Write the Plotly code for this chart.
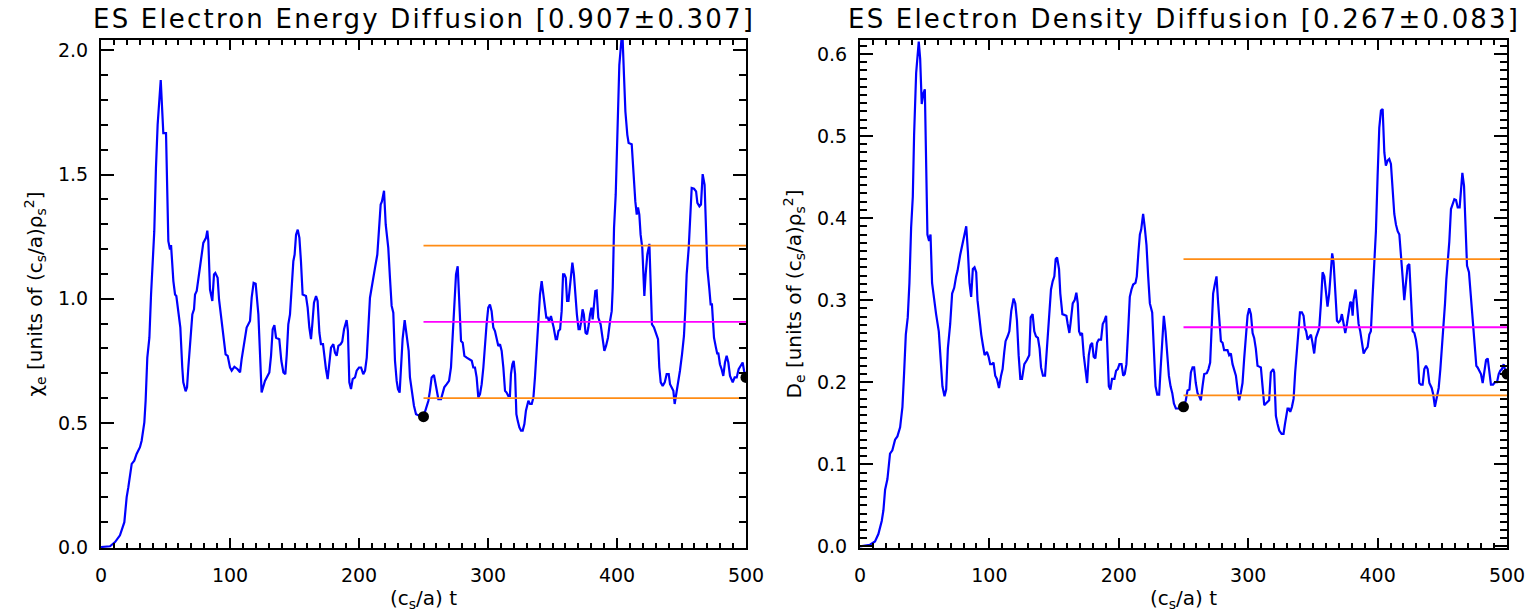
import plotly.graph_objects as go

# ---------------- data ----------------
t_chi = [0, 7.0, 10.9, 14.7, 18.1, 19.9, 21.2, 23.8, 25.8, 27.6, 30.2, 31.5, 33.6, 34.6, 35.9, 37.5, 38.8, 40.1,
         41.3, 42.6, 43.9, 46.3, 47.8, 48.3, 50.4, 51.4, 52.2, 53.5, 54.3, 56.1, 57.4, 58.4, 59.9, 61.5, 63.0, 63.8,
         65.6, 66.7, 67.7, 69.0, 70.8, 72.1, 72.9, 74.2, 75.5, 77.0, 79.3, 81.4, 82.4, 83.2, 84.5, 86.3, 87.6, 88.6,
         90.4, 91.5, 93.0, 95.1, 96.6, 98.2, 100.0, 101.3, 103.4, 105.9, 107.8, 109.0, 110.9, 112.9, 115.5, 116.8,
         118.3, 119.9, 122.0, 123.3, 124.5,
         127.1, 128.9, 130.5, 131.8, 133.1, 134.4, 135.7, 138.2, 139.8, 141.4, 142.9, 144.0, 145.2, 146.5, 147.8,
         149.1, 150.1, 151.2, 152.5, 153.8, 155.0, 156.3, 158.9, 160.2, 161.5, 162.8, 163.8, 165.1, 166.7, 167.9,
         169.3, 170.5, 172.1, 173.1, 174.4, 175.7, 177.0, 178.3, 180.1, 181.4, 182.7, 184.0, 185.8, 187.0, 188.4,
         190.4, 191.4, 192.5, 193.8, 195.1, 196.9, 198.2, 200.0, 201.6, 203.3, 204.7, 206.0, 207.2, 208.5, 209.8,
         211.1, 212.4, 214.2, 215.5, 216.8, 217.8, 219.4, 220.7, 222.7, 224.0, 225.3, 226.6, 227.9, 229.2, 230.2,
         231.5, 232.8, 233.8, 235.4, 236.9, 238.5, 239.5, 241.1, 242.6, 244.2, 246.8, 250.0,
         252.4, 253.8, 255.0, 256.3, 258.1, 259.7, 261.5, 263.6, 266.1, 268.0, 269.8, 271.3, 272.6, 274.0, 275.2,
         276.5, 277.8, 279.1, 280.4, 281.7, 283.5, 285.5, 287.4, 288.6, 289.9, 291.2, 292.5, 293.8, 295.1, 296.4,
         297.7, 298.9, 300.2, 301.5, 302.8, 304.1, 305.4, 306.7, 308.0, 309.3, 310.6, 311.9, 313.2, 314.4, 315.7,
         317.0, 317.8, 318.9, 319.9, 321.0, 322.0, 323.0, 324.3, 325.6, 326.9, 328.2, 329.4, 331.3, 332.6, 333.9,
         335.2, 336.4, 337.7, 339.0, 340.3, 341.6, 342.9, 344.2, 345.2, 346.3, 347.3, 348.8, 349.9, 350.9, 352.5,
         353.5, 354.6, 355.9, 357.1, 358.2, 359.2, 360.3, 361.3, 362.4, 363.4, 364.4, 365.4, 366.6, 367.6, 368.9,
         370.2, 371.2, 372.3, 373.3, 374.3, 375.6, 376.8, 377.8, 379.1, 380.2,
         381.1, 382.2, 383.2, 384.2, 385.5, 387.3, 388.9, 390.2, 391.5, 393.0, 394.6, 395.9, 396.7, 397.7, 399.0,
         400.3, 401.8, 403.4, 404.4, 405.4, 406.5, 408.0, 409.0, 411.4, 412.7, 414.2, 415.3, 416.3, 417.3, 418.3,
         419.6, 420.4, 421.2, 422.2, 423.5, 425.1, 426.1, 427.1, 428.7, 430.2, 431.8, 432.8, 433.9, 435.4, 437.0,
         438.5, 440.1, 441.1, 442.4, 443.7, 444.7, 445.7, 447.3, 448.8, 450.4, 451.9, 452.9, 454.0, 455.6, 456.6,
         457.9, 459.7, 461.3, 462.3, 463.9, 465.1, 466.4, 467.9, 468.9, 470.0, 471.5, 472.6, 473.6, 475.2, 476.7,
         477.8, 478.5, 479.8, 481.1, 482.4, 483.7, 485.0, 486.3, 487.6, 489.7, 491.2, 492.8, 494.3, 495.9, 497.4,
         498.5, 500.0]
chi_e = [0.0, 0.003, 0.020, 0.047, 0.100, 0.201, 0.241, 0.335, 0.348, 0.375, 0.402, 0.428, 0.502, 0.589, 0.763,
         0.843, 1.017, 1.151, 1.272, 1.526, 1.700, 1.881, 1.740, 1.667, 1.667, 1.446, 1.232, 1.198, 1.216, 1.071,
         1.017, 1.011, 0.937, 0.884, 0.723, 0.663, 0.627, 0.643, 0.723, 0.830, 0.937, 0.957, 1.017, 1.031, 1.078,
         1.138, 1.225, 1.245, 1.274, 1.232, 1.037, 0.991, 1.098, 1.104, 1.084, 0.997, 0.930, 0.857, 0.776, 0.770,
         0.723, 0.710, 0.726, 0.716, 0.703, 0.756, 0.817, 0.884, 0.910, 1.004, 1.064, 1.060, 0.937, 0.776, 0.622,
         0.669, 0.689, 0.703, 0.770, 0.877, 0.894, 0.843, 0.837, 0.750, 0.703, 0.696, 0.776, 0.897, 0.937, 1.071,
         1.151, 1.178, 1.258, 1.278, 1.245, 1.151, 1.017, 1.011, 0.964, 0.884, 0.837, 0.897, 0.984, 1.011, 0.991,
         0.863, 0.817, 0.817, 0.763, 0.716, 0.676, 0.750, 0.803, 0.817, 0.783, 0.770, 0.810, 0.817, 0.827, 0.877,
         0.914, 0.870, 0.663, 0.636, 0.676, 0.683, 0.710, 0.723, 0.723, 0.696, 0.710, 0.763, 0.884, 1.004, 1.044,
         1.078, 1.124, 1.178, 1.285, 1.379, 1.392, 1.435, 1.299, 1.205, 1.084, 0.971, 0.944, 0.750, 0.669, 0.636,
         0.622, 0.723, 0.837, 0.914, 0.857, 0.790, 0.683, 0.622, 0.569, 0.535, 0.529, 0.525,
         0.562, 0.589, 0.629, 0.683, 0.693, 0.643, 0.596, 0.596, 0.643, 0.656, 0.669, 0.723, 0.857, 1.031, 1.098,
         1.131, 0.991, 0.830, 0.823, 0.770, 0.763, 0.756, 0.750, 0.723, 0.723, 0.683, 0.602, 0.616, 0.656, 0.723,
         0.830, 0.897, 0.964, 0.977, 0.950, 0.884, 0.870, 0.843, 0.810, 0.817, 0.790, 0.723, 0.629, 0.622, 0.609,
         0.609, 0.696, 0.736, 0.750, 0.696, 0.535, 0.509, 0.482, 0.469, 0.469, 0.495, 0.549, 0.589, 0.576, 0.576,
         0.602, 0.683, 0.803, 0.897, 1.017, 1.071, 1.017, 0.964, 0.924, 0.924, 0.910, 0.930, 0.910, 0.884, 0.837,
         0.837, 0.870, 0.877, 0.950, 1.098, 1.098, 1.084, 0.991, 0.991, 1.044, 1.098, 1.145, 1.098, 1.017, 0.937,
         0.877, 0.877, 0.910, 0.957, 0.937, 0.863, 0.857, 0.884, 0.937, 0.964,
         0.917, 0.964, 1.031, 1.033, 0.924, 0.897, 0.843, 0.790, 0.810, 0.843, 0.910, 0.950, 1.044, 1.285, 1.419,
         1.700, 1.941, 2.041, 2.041, 1.901, 1.754, 1.660, 1.627, 1.622, 1.499, 1.392, 1.339, 1.368, 1.339, 1.258,
         1.205, 1.071, 1.011, 1.098, 1.178, 1.221, 1.084, 0.897, 0.884, 0.857, 0.837, 0.723, 0.663, 0.649, 0.663,
         0.696, 0.696, 0.656, 0.645, 0.629, 0.576, 0.609, 0.643, 0.710, 0.776, 0.850, 0.950, 1.098, 1.205, 1.339,
         1.446, 1.443, 1.432, 1.386, 1.372, 1.379, 1.502, 1.459, 1.312, 1.124, 1.044, 0.977, 0.977, 0.843, 0.803,
         0.776, 0.783, 0.736, 0.716, 0.689, 0.743, 0.770, 0.743, 0.689, 0.663, 0.683, 0.683, 0.716, 0.730, 0.743,
         0.710, 0.683]

t_de = [0, 7.7, 11.6, 14.2, 16.8, 18.1, 19.4, 21.2, 23.2, 25.0, 27.1, 28.9, 31.0, 32.8, 34.1, 35.4, 36.9, 38.2,
        39.5, 40.8, 41.8, 43.4, 45.4, 46.5, 47.7, 49.0, 50.1, 51.1, 52.1, 53.4, 54.5, 55.7, 57.3, 58.8, 60.9, 62.5,
        63.7, 65.3, 66.6, 67.9, 69.7, 71.2, 72.8, 74.3, 75.4, 77.4, 79.0, 80.0, 82.1, 83.4, 84.6, 85.9, 87.2, 88.5,
        89.8, 90.8, 92.4, 93.7, 95.0, 96.3, 98.1, 99.4, 100.6, 101.9, 103.2, 104.5, 105.8, 107.4, 109.0, 110.2,
        111.5, 112.5, 114.1, 115.4, 116.9, 118.7, 120.0, 121.3, 122.6, 123.9, 125.2, 127.0, 129.0, 130.8, 131.9,
        133.4, 134.7, 136.0, 137.5, 138.8, 139.9, 141.4, 143.0, 144.0, 145.0, 146.3, 147.6, 148.9, 150.2, 151.2,
        152.3, 153.8, 154.8, 156.4, 159.5, 160.5, 161.8, 162.8, 164.4, 165.9, 167.2, 168.3, 169.3, 170.3, 171.6,
        172.9, 174.2, 175.5, 176.8, 178.1, 179.4, 180.6, 181.9, 183.2, 184.5, 186.3, 187.6, 188.9, 190.2, 191.0,
        192.3, 193.5, 194.8, 196.6, 197.9, 199.2, 200.5, 202.1, 203.4, 204.6, 205.9, 207.2, 208.5, 209.8, 211.1,
        212.9, 213.9, 215.2, 216.3, 217.3, 218.8, 220.1, 221.4, 222.7, 224.0, 225.8, 227.1, 228.4, 229.7, 231.2,
        232.3, 233.5, 234.8, 236.1, 237.4, 238.7, 240.0, 241.3, 242.6, 244.1, 246.5, 250.0,
        251.8, 253.1, 254.6, 255.7, 257.0, 258.2, 259.5, 260.8, 262.1, 263.4, 264.7, 266.0, 268.0, 269.3, 270.6,
        271.6, 272.9, 274.2, 275.5, 276.8, 278.1, 278.9, 280.2, 281.4, 282.7, 284.0, 285.3, 286.6, 287.9, 289.2,
        290.5, 291.8, 293.0, 294.3, 295.6, 296.9, 298.2, 299.5, 300.8, 302.1, 303.4, 304.6, 305.9, 307.2, 308.5,
        309.8, 311.1, 312.4, 313.7, 314.9, 316.2, 317.5, 319.3, 320.1, 321.4, 322.7, 324.0, 325.8, 327.3, 328.4,
        329.4, 330.4, 331.4, 332.5, 333.8, 335.1, 336.3, 337.6, 338.9, 340.0, 341.5, 342.8, 343.8, 344.8, 345.9,
        347.2, 348.5, 349.7, 351.0, 352.3, 353.6, 354.9, 356.2, 357.5, 358.8, 360.1, 361.3, 362.6, 363.9, 364.9,
        366.0, 367.3, 368.6, 369.8, 371.1, 372.4, 373.7, 375.0, 376.3, 377.6, 378.9, 379.9, 380.7, 381.4, 383.0,
        384.0, 385.3, 386.6, 387.9, 389.2, 390.5, 392.3, 393.6, 394.8, 396.1, 397.4, 398.7, 400.0, 401.3, 402.6,
        403.9, 405.2, 406.4, 407.7, 409.0, 410.3, 411.6, 412.9, 414.2, 415.5, 416.8, 418.0, 419.3, 420.6, 421.9,
        423.2, 424.5, 425.8, 427.1, 428.4, 429.6, 430.9, 432.2, 433.5, 434.8, 436.1, 437.4, 438.7, 440.0, 441.8,
        443.0, 444.3, 445.9, 447.2, 448.5, 449.7, 451.0, 452.1, 453.1, 454.1, 455.4, 456.7, 458.0, 459.3, 460.6,
        461.9, 463.4, 464.4, 465.5, 466.8, 467.8, 469.1, 470.6, 471.9, 473.0, 474.0, 475.3, 476.3, 477.3, 478.6,
        479.9, 481.2, 482.5, 483.8, 485.1, 486.3, 487.6, 489.2, 490.7, 492.3, 493.6, 494.8, 496.1, 497.4, 498.7,
        500.0]
d_e = [0.0, 0.002, 0.006, 0.015, 0.031, 0.044, 0.069, 0.082, 0.113, 0.117, 0.130, 0.134, 0.145, 0.170, 0.212,
       0.258, 0.279, 0.321, 0.388, 0.426, 0.501, 0.577, 0.615, 0.594, 0.539, 0.552, 0.557, 0.455, 0.380, 0.372,
       0.380, 0.321, 0.298, 0.283, 0.262, 0.229, 0.195, 0.183, 0.191, 0.241, 0.271, 0.308, 0.315, 0.329, 0.336,
       0.355, 0.367, 0.376, 0.390, 0.359, 0.321, 0.304, 0.338, 0.340, 0.334, 0.300, 0.275, 0.258, 0.245, 0.233,
       0.237, 0.231, 0.222, 0.222, 0.224, 0.208, 0.204, 0.193, 0.208, 0.216, 0.237, 0.250, 0.256, 0.262, 0.287,
       0.302, 0.296, 0.275, 0.233, 0.204, 0.204, 0.222, 0.227, 0.233, 0.279, 0.283, 0.262, 0.256, 0.254, 0.241,
       0.218, 0.208, 0.208, 0.233, 0.258, 0.279, 0.313, 0.323, 0.329, 0.350, 0.352, 0.338, 0.308, 0.283, 0.281,
       0.271, 0.260, 0.273, 0.296, 0.300, 0.309, 0.296, 0.262, 0.258, 0.260, 0.233, 0.216, 0.199, 0.233, 0.245,
       0.248, 0.231, 0.229, 0.248, 0.252, 0.252, 0.271, 0.275, 0.281, 0.254, 0.195, 0.191, 0.204, 0.204, 0.214,
       0.216, 0.222, 0.222, 0.208, 0.210, 0.222, 0.262, 0.304, 0.313, 0.319, 0.321, 0.329, 0.359, 0.380, 0.386,
       0.405, 0.388, 0.367, 0.329, 0.296, 0.285, 0.237, 0.195, 0.185, 0.185, 0.216, 0.250, 0.281, 0.262, 0.237,
       0.208, 0.195, 0.187, 0.174, 0.168, 0.168, 0.170,
       0.178, 0.190, 0.191, 0.212, 0.218, 0.218, 0.199, 0.187, 0.183, 0.178, 0.195, 0.210, 0.211, 0.216, 0.224,
       0.254, 0.308, 0.319, 0.329, 0.296, 0.271, 0.250, 0.248, 0.239, 0.239, 0.239, 0.233, 0.235, 0.222, 0.216,
       0.208, 0.191, 0.178, 0.187, 0.199, 0.229, 0.262, 0.281, 0.290, 0.283, 0.260, 0.254, 0.241, 0.220, 0.219,
       0.218, 0.195, 0.172, 0.174, 0.176, 0.178, 0.212, 0.216, 0.212, 0.159, 0.149, 0.141, 0.137, 0.137, 0.149,
       0.159, 0.168, 0.168, 0.164, 0.170, 0.180, 0.212, 0.237, 0.262, 0.285, 0.285, 0.281, 0.266, 0.262, 0.252,
       0.256, 0.258, 0.248, 0.235, 0.254, 0.260, 0.266, 0.296, 0.334, 0.329, 0.313, 0.292, 0.308, 0.338, 0.357,
       0.346, 0.313, 0.275, 0.273, 0.275, 0.283, 0.271, 0.260, 0.271, 0.283, 0.298, 0.296, 0.281, 0.300, 0.313,
       0.296, 0.271, 0.262, 0.245, 0.235, 0.239, 0.243, 0.258, 0.262, 0.304, 0.350, 0.384, 0.451, 0.510, 0.531,
       0.533, 0.480, 0.464, 0.470, 0.472, 0.466, 0.434, 0.405, 0.392, 0.384, 0.380, 0.359, 0.329, 0.300, 0.321,
       0.342, 0.344, 0.300, 0.262, 0.260, 0.252, 0.237, 0.199, 0.197, 0.197, 0.216, 0.220, 0.216, 0.199, 0.193,
       0.185, 0.170, 0.185, 0.193, 0.216, 0.241, 0.262, 0.296, 0.325, 0.346, 0.371, 0.411, 0.418, 0.423, 0.422,
       0.413, 0.413, 0.434, 0.455, 0.439, 0.388, 0.342, 0.334, 0.308, 0.296, 0.266, 0.245, 0.220, 0.218, 0.214,
       0.210, 0.199, 0.212, 0.227, 0.229, 0.212, 0.197, 0.197, 0.200, 0.200, 0.210, 0.214, 0.216, 0.222, 0.214,
       0.210]

# averaging window and statistics
t_window = [250, 500]
chi_mean, chi_std = 0.907, 0.307
de_mean, de_std = 0.267, 0.083
chi_dots = [0.525, 0.683]
de_dots = [0.170, 0.210]

titles = ["ES Electron Energy Diffusion [0.907±0.307]", "ES Electron Density Diffusion [0.267±0.083]"]
ytitles = ["χ<sub>e</sub> [units of (c<sub>s</sub>/a)ρ<sub>s</sub><sup>2</sup>]",
           "D<sub>e</sub> [units of (c<sub>s</sub>/a)ρ<sub>s</sub><sup>2</sup>]"]
xtitle = "(c<sub>s</sub>/a) t"

# ---------------- figure ----------------
W, H = 1535, 614
FONT = "DejaVu Sans"
BLUE = "rgb(0,0,255)"
ORANGE = "rgb(255,140,20)"
MAGENTA = "rgb(255,0,255)"

fig = go.Figure()


def add_panel(fig, xa, ya, t, y, mean, std, dots):
    fig.add_trace(go.Scatter(x=t, y=y, mode="lines", line=dict(color=BLUE, width=2.2),
                             xaxis=xa, yaxis=ya, showlegend=False, hoverinfo="skip"))
    for val, col in [(mean + std, ORANGE), (mean, MAGENTA), (mean - std, ORANGE)]:
        fig.add_trace(go.Scatter(x=t_window, y=[val, val], mode="lines", line=dict(color=col, width=1.8),
                                 xaxis=xa, yaxis=ya, showlegend=False, hoverinfo="skip"))
    fig.add_trace(go.Scatter(x=t_window, y=dots, mode="markers",
                             marker=dict(color="black", size=11, symbol="circle"),
                             xaxis=xa, yaxis=ya, showlegend=False, hoverinfo="skip"))


add_panel(fig, "x", "y", t_chi, chi_e, chi_mean, chi_std, chi_dots)
add_panel(fig, "x2", "y2", t_de, d_e, de_mean, de_std, de_dots)

top, bottom = 40, 548
ydom = [1 - bottom / H, 1 - top / H]
L1, R1 = 101, 746
L2, R2 = 860, 1507

common_x = dict(range=[0, 500], dtick=100, tick0=0, ticks="inside", ticklen=10, tickwidth=1.5,
                tickcolor="black", showline=True, linewidth=2, linecolor="black", mirror="ticks",
                showgrid=False, zeroline=False, automargin=False, ticklabelstandoff=9,
                tickfont=dict(family=FONT, size=19, color="black"),
                minor=dict(dtick=10, ticks="inside", ticklen=5, tickwidth=1.5, tickcolor="black", showgrid=False),
                title=dict(text=xtitle, font=dict(family=FONT, size=20, color="black"), standoff=6))
common_y = dict(ticks="inside", ticklen=13, tickwidth=1.5, tickcolor="black", showline=True, linewidth=2,
                linecolor="black", mirror="ticks", showgrid=False, zeroline=False, automargin=False,
                ticklabelstandoff=7, tickfont=dict(family=FONT, size=19, color="black"))

fig.update_layout(
    width=W, height=H, margin=dict(l=0, r=0, t=0, b=0, autoexpand=False),
    paper_bgcolor="white", plot_bgcolor="white",
    xaxis=dict(domain=[L1 / W, R1 / W], anchor="y", **common_x),
    xaxis2=dict(domain=[L2 / W, R2 / W], anchor="y2", **common_x),
    yaxis=dict(domain=ydom, anchor="x", range=[-0.004, 2.042], dtick=0.5, tick0=0, tickformat=".1f",
               minor=dict(dtick=0.1, ticks="inside", ticklen=7, tickwidth=1.5, tickcolor="black", showgrid=False),
               title=dict(text=ytitles[0], font=dict(family=FONT, size=20, color="black"), standoff=10),
               **common_y),
    yaxis2=dict(domain=ydom, anchor="x2", range=[-0.002, 0.617], dtick=0.1, tick0=0, tickformat=".1f",
                minor=dict(dtick=0.01, ticks="inside", ticklen=7, tickwidth=1.5, tickcolor="black", showgrid=False),
                title=dict(text=ytitles[1], font=dict(family=FONT, size=20, color="black"), standoff=10),
                **common_y),
    annotations=[
        dict(text='<span style="letter-spacing:2.2px">' + titles[0] + '</span>',
             x=(L1 + R1) / 2 / W, y=1 - 19 / H, xref="paper", yref="paper",
             xanchor="center", yanchor="middle", showarrow=False,
             font=dict(family=FONT, size=26, color="black")),
        dict(text='<span style="letter-spacing:2.2px">' + titles[1] + '</span>',
             x=(L2 + R2) / 2 / W, y=1 - 19 / H, xref="paper", yref="paper",
             xanchor="center", yanchor="middle", showarrow=False,
             font=dict(family=FONT, size=26, color="black")),
    ],
)

fig.write_html("out.html")
